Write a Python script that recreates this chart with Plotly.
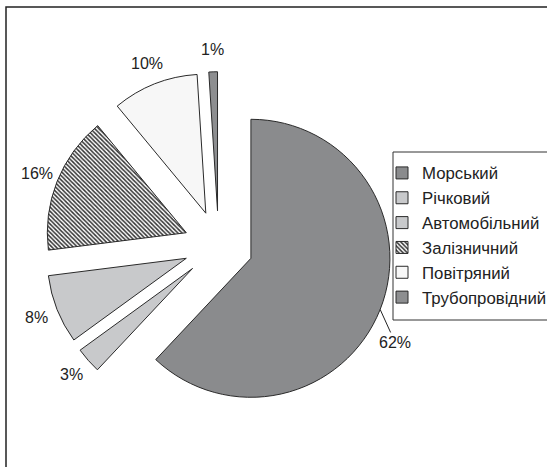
import math
import plotly.graph_objects as go

# Freight turnover shares by transport mode, %
modes = ["Морський", "Річковий", "Автомобільний", "Залізничний", "Повітряний", "Трубопровідний"]
shares = [62, 3, 8, 16, 10, 1]

slice_colors = ["#8a8b8d", "#c8c9cb", "#c8c9cb", "#ffffff", "#f7f7f7", "#8d8e90"]
slice_patterns = ["", "", "", "\\", "", ""]

W, H = 547, 467
PULL = 0.25
DOM_X = [0.0820, 0.7173]
DOM_Y = [0.1022, 0.8464]
LABEL_GAP = 22          # px between the rim and a percentage label centre
FONT = "Liberation Sans, Arial, sans-serif"

fig = go.Figure(
    go.Pie(
        labels=modes,
        values=shares,
        sort=False,
        direction="clockwise",
        rotation=0,
        pull=[PULL] * len(shares),
        marker=dict(
            colors=slice_colors,
            line=dict(color="#2a2a2a", width=1),
            pattern=dict(
                shape=slice_patterns,
                fgcolor="#333333",
                bgcolor="#ffffff",
                size=3,
                solidity=0.5,
            ),
        ),
        textinfo="none",
        hoverinfo="label+percent",
        domain=dict(x=DOM_X, y=DOM_Y),
    )
)

# Pie geometry in pixels (same rule plotly uses to size a pulled pie)
cx = W * (DOM_X[0] + DOM_X[1]) / 2
cy = H * (1 - (DOM_Y[0] + DOM_Y[1]) / 2)
r = min(W * (DOM_X[1] - DOM_X[0]), H * (DOM_Y[1] - DOM_Y[0])) / 2 / (1 + PULL)

total = sum(shares)
cum = 0
for i, v in enumerate(shares):
    theta = math.radians(360 * (cum + v / 2) / total)
    cum += v
    ux, uy = math.sin(theta), -math.cos(theta)
    sx, sy = cx + PULL * r * ux, cy + PULL * r * uy   # apex of the pulled slice
    text = f"{v}%"
    if i == 0:
        # the largest slice gets a leader line from its rim
        tx, ty = sx + r * ux, sy + r * uy
        fig.add_annotation(
            x=tx / W, y=1 - ty / H, xref="paper", yref="paper",
            text=text, showarrow=True, arrowhead=0, arrowwidth=1, arrowcolor="#222222",
            ax=15, ay=33, standoff=0, startstandoff=0,
            font=dict(family=FONT, size=16, color="#222222"),
        )
    else:
        lx, ly = sx + (r + LABEL_GAP) * ux, sy + (r + LABEL_GAP) * uy
        fig.add_annotation(
            x=lx / W, y=1 - ly / H, xref="paper", yref="paper",
            text=text, showarrow=False, xanchor="center", yanchor="middle",
            font=dict(family=FONT, size=16, color="#222222"),
        )

# outer frame of the chart area (runs off the right and bottom edges)
fig.add_shape(type="rect", xref="paper", yref="paper",
              x0=6 / W, x1=1.05, y0=-0.05, y1=1 - 7 / H,
              line=dict(color="#222222", width=1.5), fillcolor="rgba(0,0,0,0)")
# legend frame
fig.add_shape(type="rect", xref="paper", yref="paper",
              x0=393 / W, x1=1.05, y0=1 - 320 / H, y1=1 - 152 / H,
              line=dict(color="#333333", width=1), fillcolor="rgba(0,0,0,0)")

fig.update_layout(
    width=W,
    height=H,
    margin=dict(l=0, r=0, t=0, b=0, autoexpand=False),
    paper_bgcolor="white",
    plot_bgcolor="white",
    font=dict(family=FONT, size=16, color="#222222"),
    legend=dict(
        x=382 / W,
        y=1 - 155.5 / H,
        xanchor="left",
        yanchor="top",
        bgcolor="rgba(0,0,0,0)",
        borderwidth=0,
        font=dict(size=16.8, color="#222222"),
    ),
)

fig.write_html("out.html")
